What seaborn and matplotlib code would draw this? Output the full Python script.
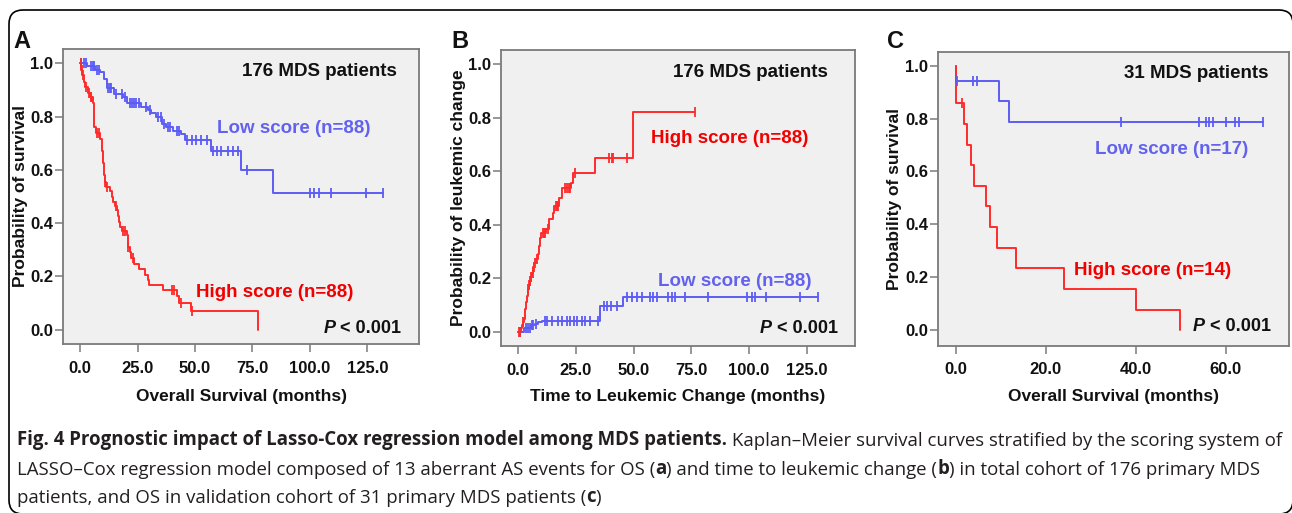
import numpy as np
import pandas as pd
import matplotlib
matplotlib.use("Agg")
import matplotlib.pyplot as plt
import seaborn as sns
from matplotlib.patches import FancyBboxPatch

# ---------------- data ----------------
# Panel A: overall survival, 176 MDS patients
a_low_event_t = [3.0, 6.5, 8.5, 10.5, 11.5, 14.5, 18.8, 20.5, 26.5, 29.5, 31.0, 33.0,
                 35.5, 37.5, 40.5, 44.0, 45.5, 57.0, 69.8, 84.0]
a_low_event_v = [0.989, 0.977, 0.966, 0.943, 0.909, 0.886, 0.874, 0.851, 0.838, 0.825,
                 0.812, 0.799, 0.773, 0.760, 0.747, 0.733, 0.713, 0.672, 0.598, 0.513]
a_low_censor = [0.5, 1.5, 2.5, 4.5, 5.5, 6.0, 7.5, 8.0, 12.0, 13.0, 13.5, 15.5, 18.0, 19.5,
                21.5, 22.5, 23.5, 24.5, 25.5, 28.5, 30.5, 34.0, 35.0, 36.5, 38.0, 39.0,
                42.0, 43.0, 46.5, 48.5, 50.5, 52.5, 55.0, 58.0, 59.5, 61.5, 64.5, 66.5,
                68.5, 72.5, 100.2, 101.7, 103.9, 109.0, 124.3, 132.0]

a_high_event_t = [0.3, 0.8, 1.5, 2.2, 3.5, 4.2, 5.5, 5.8, 6.0, 6.2, 7.0, 8.5, 9.3, 9.6,
                  9.9, 10.1, 10.3, 10.5, 10.8, 11.3, 12.8, 13.8, 14.4, 15.0, 15.8, 16.3,
                  16.9, 17.5, 18.1, 20.3, 20.6, 20.9, 21.5, 22.3, 23.5, 25.8, 28.0, 29.5,
                  29.8, 36.0, 42.2, 42.8, 48.4, 77.6]
a_high_event_v = [0.977, 0.955, 0.932, 0.910, 0.887, 0.875, 0.852, 0.818, 0.784, 0.762,
                  0.739, 0.716, 0.693, 0.670, 0.647, 0.625, 0.602, 0.579, 0.556, 0.535,
                  0.519, 0.500, 0.480, 0.466, 0.450, 0.428, 0.406, 0.385, 0.370, 0.356,
                  0.334, 0.312, 0.290, 0.269, 0.247, 0.226, 0.206, 0.188, 0.168, 0.150,
                  0.125, 0.100, 0.069, 0.0]
a_high_censor = [0.2, 0.6, 1.2, 2.5, 3.7, 4.5, 4.8, 7.5, 8.0, 11.0, 11.5, 15.5, 18.8,
                 19.5, 21.0, 23.0, 40.0, 41.0, 44.0, 48.6]

# Panel B: probability of leukemic change, 176 MDS patients
b_high_event_t = [1.0, 1.6, 2.0, 2.4, 2.8, 3.1, 3.4, 3.7, 4.0, 4.5, 5.0, 5.5, 6.0, 6.5,
                  7.0, 7.8, 8.5, 9.0, 9.5, 10.0, 12.0, 13.5, 15.0, 15.5, 17.5, 18.8,
                  23.0, 23.8, 33.2, 49.8]
b_high_event_v = [0.012, 0.024, 0.036, 0.048, 0.060, 0.085, 0.110, 0.135, 0.160, 0.175,
                  0.190, 0.205, 0.220, 0.240, 0.255, 0.270, 0.290, 0.320, 0.350, 0.370,
                  0.385, 0.420, 0.445, 0.470, 0.500, 0.537, 0.555, 0.593, 0.649, 0.823]
b_high_censor = [0.3, 0.6, 2.2, 4.2, 4.7, 5.2, 5.7, 6.2, 6.7, 7.3, 8.2, 10.5, 11.0, 11.5,
                 13.0, 16.2, 16.8, 17.2, 20.2, 21.0, 22.0, 22.5, 24.8, 39.5, 40.5, 41.0,
                 47.0, 76.8]

b_low_event_t = [2.5, 5.5, 7.3, 8.5, 10.2, 35.4, 45.2]
b_low_event_v = [0.012, 0.023, 0.030, 0.035, 0.041, 0.096, 0.131]
b_low_censor = [0.8, 3.5, 4.2, 5.0, 6.0, 6.5, 7.8, 11.5, 12.5, 14.5, 17.0, 19.0, 21.0,
                22.5, 24.0, 25.5, 27.5, 29.0, 31.0, 34.5, 37.0, 38.5, 40.0, 43.0, 47.0,
                49.1, 51.3, 53.5, 57.1, 58.5, 60.0, 65.0, 66.5, 67.9, 72.3, 82.4, 99.0,
                101.2, 102.6, 107.4, 122.1, 130.0]

# Panel C: overall survival, validation cohort of 31 MDS patients
c_low_event_t = [0.2, 9.6, 11.8]
c_low_event_v = [0.941, 0.865, 0.785]
c_low_censor = [0.4, 3.8, 4.8, 36.7, 54.1, 55.7, 56.4, 57.2, 60.1, 62.0, 62.9, 68.4]

c_high_event_t = [0.2, 1.8, 2.5, 3.5, 4.2, 6.8, 7.7, 9.2, 13.5, 24.1, 40.0, 49.9]
c_high_event_v = [0.857, 0.779, 0.701, 0.623, 0.545, 0.468, 0.390, 0.312, 0.234, 0.156,
                  0.078, 0.0]
c_high_censor = [1.5]

xticks_ab = [0, 25, 50, 75, 100, 125]
xticks_c = [0, 20, 40, 60]
yticks = [0.0, 0.2, 0.4, 0.6, 0.8, 1.0]

panel_letters = ["A", "B", "C"]
ylabels = ["Probability of survival", "Probability of leukemic change", "Probability of survival"]
xlabels = ["Overall Survival (months)", "Time to Leukemic Change (months)", "Overall Survival (months)"]
cohort_titles = ["176 MDS patients", "176 MDS patients", "31 MDS patients"]
low_labels = ["Low score (n=88)", "Low score (n=88)", "Low score (n=17)"]
high_labels = ["High score (n=88)", "High score (n=88)", "High score (n=14)"]
p_text = "< 0.001"

caption_lines = [
    [("Fig. 4 Prognostic impact of Lasso-Cox regression model among MDS patients.", "bold"),
     (" Kaplan\u2013Meier survival curves stratified by the scoring system of", "normal")],
    [("LASSO\u2013Cox regression model composed of 13 aberrant AS events for OS (", "normal"),
     ("a", "bold"), (") and time to leukemic change (", "normal"), ("b", "bold"),
     (") in total cohort of 176 primary MDS", "normal")],
    [("patients, and OS in validation cohort of 31 primary MDS patients (", "normal"),
     ("c", "bold"), (")", "normal")],
]

# ---------------- styling ----------------
sns.set_style("ticks")
plt.rcParams["font.family"] = ["Liberation Sans", "DejaVu Sans"]

BLUE = "#5c5cf6"
RED = "#ff2b2b"
BLUE_T = "#6262ee"
RED_T = "#f20000"
GRAY = "#7a7a7a"
BG = "#f0f0f0"

W, H = 1292, 513
fig = plt.figure(figsize=(W / 100, H / 100), dpi=100)
fig.patch.set_facecolor("white")


def add_ax(left, right, top, bottom):
    return fig.add_axes([left / W, 1 - bottom / H, (right - left) / W, (bottom - top) / H])


def step_frame(ev_t, ev_v, censor, start):
    end = max(max(censor) if censor else 0, ev_t[-1])
    t = [0.0] + list(ev_t) + [end]
    v = [start] + list(ev_v) + [ev_v[-1]]
    return pd.DataFrame({"t": t, "p": v})


def censor_frame(ev_t, ev_v, censor, start):
    idx = np.searchsorted(np.array(ev_t), np.array(censor), side="right")
    vals = np.array([start] + list(ev_v))[idx]
    return pd.DataFrame({"t": censor, "p": vals})


def draw_curve(ax, ev_t, ev_v, censor, start, color):
    df = step_frame(ev_t, ev_v, censor, start)
    sns.lineplot(data=df, x="t", y="p", drawstyle="steps-post", color=color,
                 linewidth=1.4, estimator=None, sort=False, ax=ax)
    if censor:
        cdf = censor_frame(ev_t, ev_v, censor, start)
        sns.scatterplot(data=cdf, x="t", y="p", marker="|", s=45, color=color,
                        linewidth=1.3, ax=ax, zorder=3)


panels = [
    dict(box=(63, 419, 48.5, 344), xlim=(-7.5, 147.5), ylim=(-0.054, 1.056), xt=xticks_ab,
         curves=[(a_low_event_t, a_low_event_v, a_low_censor, 1.0, BLUE),
                 (a_high_event_t, a_high_event_v, a_high_censor, 1.0, RED)],
         title=(137.8, 0.969), low=(59.4, 0.756), high=(50.6, 0.14), p=(139.8, 0.006),
         letter=(13, 48), ylab_x=21),
    dict(box=(501, 855, 49.5, 346), xlim=(-7.5, 146.0), ylim=(-0.054, 1.056), xt=xticks_ab,
         curves=[(b_low_event_t, b_low_event_v, b_low_censor, 0.0, BLUE),
                 (b_high_event_t, b_high_event_v, b_high_censor, 0.0, RED)],
         title=(134.4, 0.969), low=(60.4, 0.187), high=(57.4, 0.723), p=(138.7, 0.012),
         letter=(451, 48), ylab_x=459),
    dict(box=(938, 1289, 51.5, 345.5), xlim=(-3.9, 74.1), ylim=(-0.057, 1.053), xt=xticks_c,
         curves=[(c_low_event_t, c_low_event_v, c_low_censor, 1.0, BLUE),
                 (c_high_event_t, c_high_event_v, c_high_censor, 1.0, RED)],
         title=(69.6, 0.971), low=(30.9, 0.682), high=(26.4, 0.226), p=(70.1, 0.015),
         letter=(887, 48), ylab_x=895),
]

for i, pn in enumerate(panels):
    left, right, top, bottom = pn["box"]
    ax = add_ax(left, right, top, bottom)
    ax.set_facecolor(BG)
    for ev_t, ev_v, cen, start, col in pn["curves"]:
        draw_curve(ax, ev_t, ev_v, cen, start, col)
    ax.set_xlim(*pn["xlim"])
    ax.set_ylim(*pn["ylim"])
    ax.set_xticks(pn["xt"])
    ax.set_xticklabels([f"{v:.1f}" for v in pn["xt"]])
    ax.set_yticks(yticks)
    ax.set_yticklabels([f"{v:.1f}" for v in yticks])
    for s in ax.spines.values():
        s.set_visible(True)
        s.set_color(GRAY)
        s.set_linewidth(1.3)
    ax.tick_params(axis="both", which="major", direction="out", length=6, width=1.1,
                   color=GRAY, labelcolor="#111111", labelsize=12)
    ax.tick_params(axis="x", pad=6)
    ax.tick_params(axis="y", pad=1)
    for lab in ax.get_xticklabels() + ax.get_yticklabels():
        lab.set_fontweight("bold")
    ax.set_xlabel(xlabels[i], fontsize=12.5, fontweight="bold", color="#111111", va="center")
    ax.set_ylabel(ylabels[i], fontsize=12.5, fontweight="bold", color="#111111", va="center")
    ax.xaxis.set_label_coords(0.5, -(396 - bottom) / (bottom - top))
    ax.yaxis.set_label_coords(-(left - pn["ylab_x"]) / (right - left), 0.5)

    tx, ty = pn["title"]
    ax.text(tx, ty, cohort_titles[i], ha="right", va="center", fontsize=13.5,
            fontweight="bold", color="#111111")
    lx, ly = pn["low"]
    ax.text(lx, ly, low_labels[i], ha="left", va="center", fontsize=13.5,
            fontweight="bold", color=BLUE_T)
    hx, hy = pn["high"]
    ax.text(hx, hy, high_labels[i], ha="left", va="center", fontsize=13.5,
            fontweight="bold", color=RED_T)
    px, py = pn["p"]
    t = ax.text(px, py, " " + p_text, ha="right", va="center", fontsize=13,
                fontweight="bold", color="#111111")
    ax.annotate("P", xy=(0, 0.5), xycoords=t, ha="right", va="center", fontsize=13,
                fontweight="bold", fontstyle="italic", color="#111111")

    lxp, lyp = pn["letter"]
    fig.text(lxp / W, 1 - lyp / H, panel_letters[i], fontsize=17, fontweight="bold",
             ha="left", va="baseline", color="#111111")

# ---------------- caption ----------------
cap_ax = fig.add_axes([0, 0, 1, 1])
cap_ax.set_axis_off()
cap_ax.set_xlim(0, W)
cap_ax.set_ylim(H, 0)
cap_ax.patch.set_alpha(0)
cap_fam = ["Open Sans", "DejaVu Sans"]
cap_size = 12.0
cap_bottoms = [450, 479, 507]
cap_texts = []
for line, yb in zip(caption_lines, cap_bottoms):
    prev = None
    row = []
    for txt, wt in line:
        if prev is None:
            a = cap_ax.text(17, yb, txt, ha="left", va="bottom", fontsize=cap_size,
                            fontweight=wt, family=cap_fam, color="#231f20")
        else:
            a = cap_ax.annotate(txt, xy=(1, 0), xycoords=prev, ha="left", va="bottom",
                                fontsize=cap_size, fontweight=wt, family=cap_fam,
                                color="#231f20")
        row.append(a)
        prev = a
    cap_texts.append(row)

fig.canvas.draw()
r = fig.canvas.get_renderer()
right_edge = cap_texts[0][-1].get_window_extent(r).x1
scale = (1272 - 17) / (right_edge - 17)
for row in cap_texts:
    for a in row:
        a.set_fontsize(cap_size * scale)

# outer rounded frame (right/bottom edges fall just outside the image)
frame = FancyBboxPatch((9, -1), 1293 - 9, 503 + 1, boxstyle="round,pad=0,rounding_size=14",
                       transform=None, fill=False, lw=1.2, ec="black")
fig.add_artist(frame)

fig.savefig("out.png", dpi=100)
